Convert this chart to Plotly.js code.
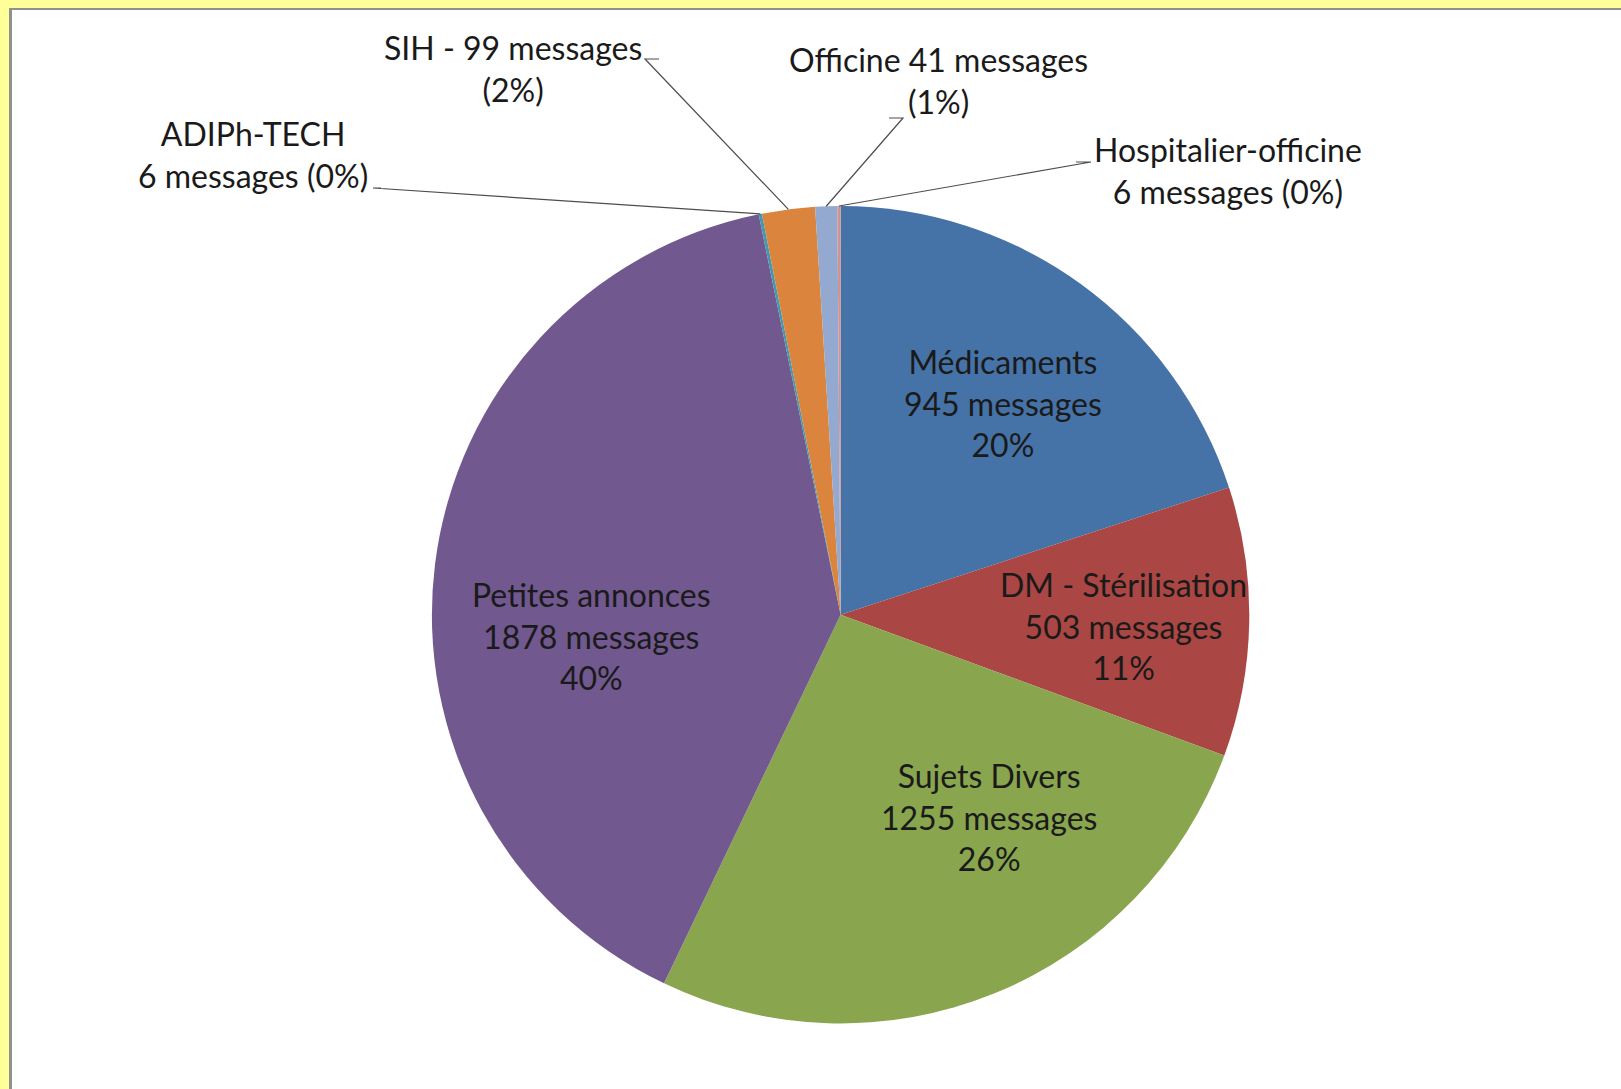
<!DOCTYPE html>
<html>
<head>
<meta charset="utf-8">
<script src="https://cdn.plot.ly/plotly-3.0.1.min.js"></script>
<style>
  html, body { margin: 0; padding: 0; width: 1621px; height: 1089px; overflow: hidden; background: #FFFF99; }
  #frame { position: absolute; left: 9px; top: 8px; width: 1620px; height: 1090px; background: #ffffff;
           border-top: 2px solid #909090; border-left: 3px solid #909090; }
  #chart { position: absolute; left: 0; top: 0; width: 1621px; height: 1089px; }
</style>
</head>
<body>
<div id="frame"></div>
<div id="chart"></div>
<script>
// ---- data ----
const categories = ["Médicaments", "DM - Stérilisation", "Sujets Divers", "Petites annonces",
                    "ADIPh-TECH", "SIH", "Officine", "Hospitalier-officine"];
const messages = [945, 503, 1255, 1878, 6, 99, 41, 6];
const percentLabels = ["20%", "11%", "26%", "40%", "0%", "2%", "1%", "0%"];
const colors = ["#4572A7", "#AA4643", "#89A54E", "#71588F", "#4198AF", "#DB843D", "#93A9CF", "#D19392"];

// label texts (as in the reference)
const labelTexts = [
  categories[0] + "<br>" + messages[0] + " messages<br>" + percentLabels[0],
  categories[1] + "<br>" + messages[1] + " messages<br>" + percentLabels[1],
  categories[2] + "<br>" + messages[2] + " messages<br>" + percentLabels[2],
  categories[3] + "<br>" + messages[3] + " messages<br>" + percentLabels[3],
  categories[4] + "<br>" + messages[4] + " messages (" + percentLabels[4] + ")",
  categories[5] + " - " + messages[5] + " messages<br>(" + percentLabels[5] + ")",
  categories[6] + " " + messages[6] + " messages<br>(" + percentLabels[6] + ")",
  categories[7] + "<br>" + messages[7] + " messages (" + percentLabels[7] + ")"
];

// ---- layout constants (pixels) ----
const W = 1621, H = 1089;
const CX = 840.6, CY = 614.7, R = 408.7;
// label centre positions
const labelPos = [[1003, 403], [1123, 625.5], [988.5, 817], [591.4, 635.5],
                  [252.8, 154], [513, 68.3], [938, 80.7], [1228, 170.7]];
// leader line start points: [x0, x1, y] (short horizontal then to slice)
const leaderStart = {4: [373, 381, 188], 5: [645, 659, 59], 6: [903, 889, 118], 7: [1091, 1076, 162]};

const px = x => x / W;
const py = y => 1 - y / H;

const total = messages.reduce((a, b) => a + b, 0);
let cum = 0;
const midFrac = messages.map(v => { const m = (cum + v / 2) / total; cum += v; return m; });

const annotations = labelTexts.map((t, i) => ({
  x: px(labelPos[i][0]), y: py(labelPos[i][1]), xref: "paper", yref: "paper",
  text: t, showarrow: false, align: "center", xanchor: "center", yanchor: "middle",
  font: { family: "Lato, 'Open Sans', sans-serif", size: 32, color: "#1a1a1a" }
}));

const shapes = [];
Object.keys(leaderStart).forEach(k => {
  const i = +k;
  const th = 2 * Math.PI * midFrac[i];
  const ax = CX + R * Math.sin(th), ay = CY - R * Math.cos(th);
  const s = leaderStart[i];
  shapes.push({
    type: "path", xref: "paper", yref: "paper",
    path: `M ${px(s[1])} ${py(s[2])} L ${px(s[0])} ${py(s[2])} L ${px(ax)} ${py(ay)}`,
    line: { color: "#4d4d4d", width: 1.2 }
  });
});

const trace = {
  type: "pie",
  labels: categories,
  values: messages,
  sort: false,
  direction: "clockwise",
  rotation: 0,
  textinfo: "none",
  hoverinfo: "label+value+percent",
  marker: { colors: colors, line: { width: 0 } },
  domain: { x: [px(CX - R), px(CX + R)], y: [py(CY + R), py(CY - R)] },
  showlegend: false
};

const layout = {
  width: W, height: H,
  margin: { l: 0, r: 0, t: 0, b: 0 },
  paper_bgcolor: "rgba(0,0,0,0)",
  plot_bgcolor: "rgba(0,0,0,0)",
  showlegend: false,
  annotations: annotations,
  shapes: shapes
};

Plotly.newPlot("chart", [trace], layout, { displayModeBar: false, staticPlot: true });
</script>
</body>
</html>
